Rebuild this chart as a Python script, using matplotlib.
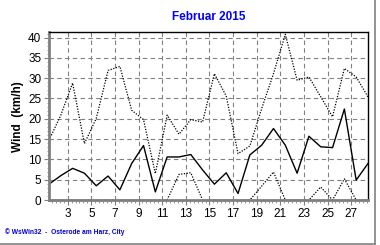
import numpy as np
import matplotlib.pyplot as plt
from matplotlib.lines import Line2D
from matplotlib.ticker import MultipleLocator, FixedLocator

plt.rcParams['font.family'] = ['Liberation Sans', 'DejaVu Sans']

days = list(range(1, 29))
wind_mean = [3.9, 6.0, 7.8, 6.6, 3.5, 5.9, 2.5, 9.0, 13.4, 2.0,
             10.6, 10.6, 11.2, 7.4, 3.9, 6.7, 1.6, 11.1, 13.5, 17.6,
             13.5, 6.6, 15.7, 13.1, 12.9, 22.4, 4.9, 9.0]
wind_max = [14.7, 20.9, 28.8, 13.9, 20.1, 31.9, 32.9, 22.1, 19.8, 6.5,
            20.9, 16.2, 19.8, 19.2, 31.1, 25.6, 11.4, 13.3, 22.5, 31.1,
            40.8, 29.5, 30.3, 25.4, 20.5, 32.4, 30.3, 25.4]
wind_min = [0, 0, 0, 0, 0, 0, 0, 0, 0, 0,
            0, 6.3, 6.7, 0, 0, 0, 0, 0, 3.4, 6.9,
            0, 0, 0, 3.2, 0, 5.2, 0, 0]
tick_days = list(range(3, 28, 2))

fig = plt.figure(figsize=(3.8, 2.45), dpi=100)
ax = fig.add_axes([49 / 380, 1 - 200 / 245, 319 / 380, 167.7 / 245])

ax.plot(days, wind_max, color='black', lw=0.9, ls=(0, (1, 1.2)))
ax.plot(days, wind_min, color='black', lw=0.9, ls=(0, (1, 1.2)))
ax.plot(days, wind_mean, color='black', lw=1.0)

ax.set_xlim(1, 28)
ax.set_ylim(0, 41.3)

# gridlines sit a bit before the day points
off = 0.42
ax.xaxis.set_major_locator(FixedLocator([d - off for d in tick_days]))
ax.set_xticklabels([str(d) for d in tick_days])
ax.xaxis.set_minor_locator(FixedLocator(np.arange(1 - off, 28.01, 1 / 3)))
ax.yaxis.set_major_locator(MultipleLocator(5))
ax.yaxis.set_minor_locator(MultipleLocator(1))
ax.tick_params(axis='both', which='major', length=3.5, width=0.8, labelsize=8.5,
               direction='out', pad=2, color='#808080')
ax.tick_params(axis='both', which='minor', length=1.8, width=0.5, color='#707070')
ax.grid(True, which='major', color='#808080', ls=(0, (4, 3)), lw=0.8)

for s in ['left', 'bottom']:
    ax.spines[s].set_color('#808080')
    ax.spines[s].set_linewidth(2.0)
for s in ['top', 'right']:
    ax.spines[s].set_color('black')
    ax.spines[s].set_linewidth(1.0)

ax.set_ylabel('Wind  (km/h)', fontsize=8.5, fontweight='bold', labelpad=3)
fig.text(0.5 * (49 + 368) / 380, 1 - 17 / 245, 'Februar 2015', color='#0000ff',
         fontsize=8.5, fontweight='bold', ha='center', va='center')
fig.text(5 / 380, 1 - 232 / 245, '© WsWin32  -  Osterode am Harz, City',
         color='#0000cc', fontsize=4.8, fontweight='bold', ha='left', va='center')

# panel frame on the right and bottom
fig.add_artist(Line2D([375 / 380, 375 / 380], [1 / 245, 1], color='#808080', lw=1.2))
fig.add_artist(Line2D([0, 375 / 380], [1.5 / 245, 1.5 / 245], color='#808080', lw=1.2))

fig.savefig('out.png', dpi=100)
